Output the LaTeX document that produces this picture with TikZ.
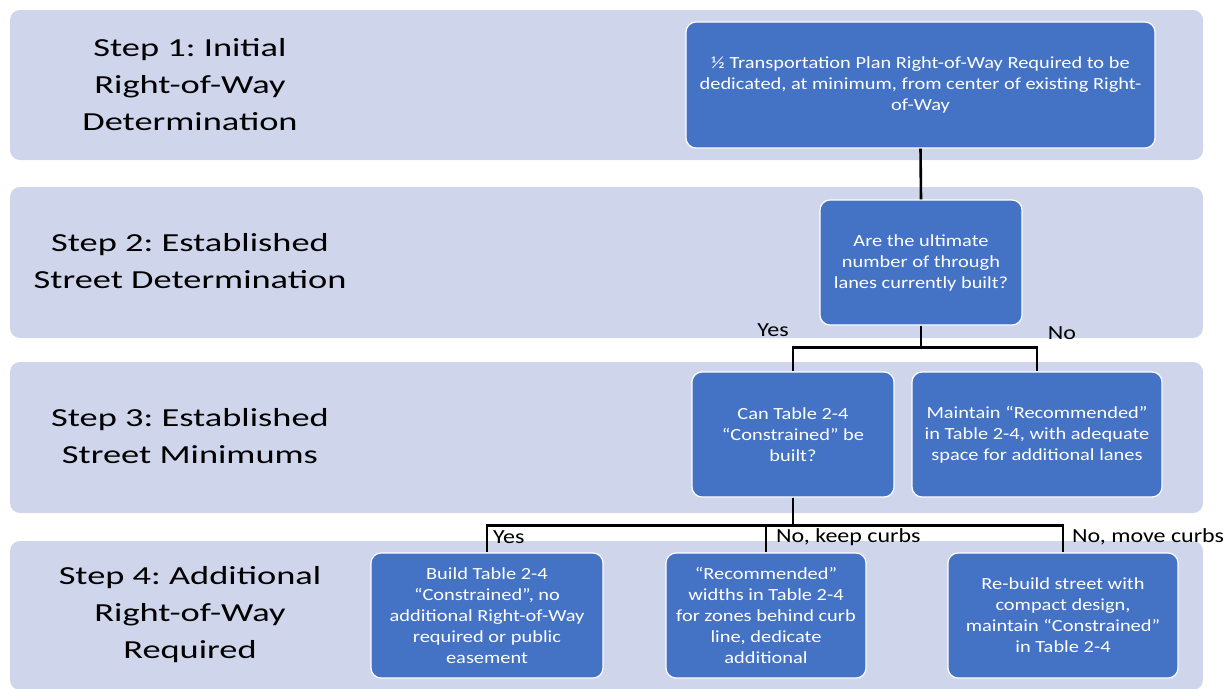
\documentclass[tikz,border=0pt]{standalone}
\usepackage{fontspec}
\setmainfont{Carlito}
\newfontfamily\headfont{Carlito}[FakeStretch=1.4]
\newfontfamily\boxfont{Carlito}[FakeStretch=1.2]
\usepackage{xcolor}
\usepackage{tikz}
\usetikzlibrary{positioning}
\definecolor{bandlilac}{HTML}{CFD5EA}
\definecolor{boxblue}{HTML}{4472C4}
\frenchspacing

\begin{document}
\begin{tikzpicture}[
    x=1pt, y=-1pt,
    band/.style={fill=bandlilac, draw=none, rounded corners=10pt,
                 minimum width=1193pt, inner sep=0pt},
    steplabel/.style={align=center, text=black,
                 font=\headfont\fontsize{26}{37}\selectfont},
    choice/.style={rounded corners=10pt, draw=white, line width=1.2pt,
                 fill=boxblue, text=white, align=center, inner sep=0pt,
                 minimum height=125pt,
                 font=\boxfont\fontsize{17}{21}\selectfont},
    answer/.style={inner sep=0pt, font=\boxfont\fontsize{20}{24}\selectfont},
    link/.style={draw=black, line width=2.6pt}]
  \useasboundingbox (0,0) rectangle (1225,688);
  % bands
  \node[band, minimum height=150pt] (row1) at (606.5,85) {};
  \node[band, minimum height=151pt] (row2) at (606.5,262.5) {};
  \node[band, minimum height=151pt] (row3) at (606.5,437.5) {};
  \node[band, minimum height=149pt] (row4) at (606.5,615.5) {};
  \node[steplabel] (s1) at (190,85) {Step 1: Initial\\Right-of-Way\\Determination};
  \node[steplabel] (s2) at (190,261.5) {Step 2: Established\\Street Determination};
  \node[steplabel] (s3) at (190,436) {Step 3: Established\\Street Minimums};
  \node[steplabel] (s4) at (190,615) {Step 4: Additional\\Right-of-Way\\Required};
  % boxes
  \node[choice, minimum width=469pt, minimum height=126pt] (a) at (920.5,85)
    {½ Transportation Plan Right-of-Way Required to be\\dedicated, at minimum, from center of existing Right-\\of-Way};
  \node[choice, minimum width=202pt] (b) at (921,262.5)
    {Are the ultimate\\number of through\\lanes currently built?};
  \node[choice, minimum width=202pt] (c) at (793,434.5)
    {Can Table 2-4\\“Constrained” be\\built?};
  \node[choice, minimum width=250pt] (d) at (1037,434.5)
    {Maintain “Recommended”\\in Table 2-4, with adequate\\space for additional lanes};
  \node[choice, minimum width=232pt] (e) at (487,615.5)
    {Build Table 2-4\\“Constrained”, no\\additional Right-of-Way\\required or public\\easement};
  \node[choice, minimum width=200pt] (f) at (766,615.5)
    {“Recommended”\\widths in Table 2-4\\for zones behind curb\\line, dedicate\\additional};
  \node[choice, minimum width=230pt] (g) at (1063,615.5)
    {Re-build street with\\compact design,\\maintain “Constrained”\\in Table 2-4};
  % connectors
  \draw[link] (a.south) -- (b.north);
  \draw[link] (b.south) -- ++(0,22) -| (c.north);
  \draw[link] (b.south) -- ++(0,22) -| (d.north);
  \draw[link] (c.south) -- ++(0,28) -| (e.north);
  \draw[link] (c.south) -- ++(0,28) -| (f.north);
  \draw[link] (c.south) -- ++(0,28) -| (g.north);
  \node[answer] (yes1) at (773,330) {Yes};
  \node[answer] (no1) at (1062,333) {No};
  \node[answer, anchor=west] (yes2) at (493,537) {Yes};
  \node[answer, anchor=west] (no2) at (776,537) {No, keep curbs};
  \node[answer, anchor=west] (no3) at (1072,537) {No, move curbs};
\end{tikzpicture}
\end{document}
